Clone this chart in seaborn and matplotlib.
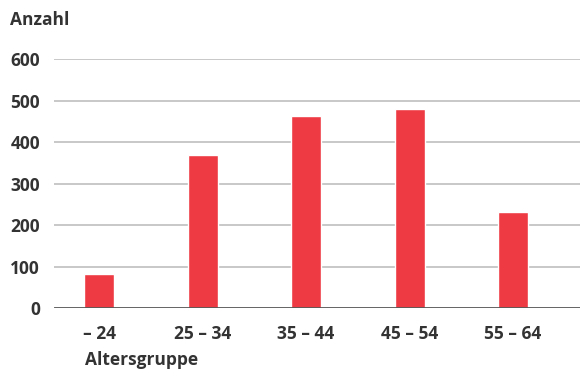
import matplotlib
matplotlib.use("Agg")
import matplotlib.pyplot as plt
import seaborn as sns
import pandas as pd

categories = ["– 24", "25 – 34", "35 – 44", "45 – 54", "55 – 64"]
values = [83, 369, 463, 480, 231]
yticks = [0, 100, 200, 300, 400, 500, 600]

sns.set_style("white")
plt.rcParams["font.family"] = ["Open Sans", "DejaVu Sans"]

df = pd.DataFrame({"Altersgruppe": categories, "Anzahl": values})

fig = plt.figure(figsize=(5.8, 3.72), dpi=100)
ax = fig.add_axes([54/580, 1 - 308/372, 1 - 54/580, 249/372])

sns.barplot(data=df, x="Altersgruppe", y="Anzahl", color="#EE3A43",
            saturation=1, width=0.29, ax=ax, zorder=3)

ax.set_ylim(0, 600)
ax.set_xlim(-0.435, 4.647)
ax.set_yticks(yticks)
ax.set_yticklabels([str(v) for v in yticks])
for y in yticks[1:]:
    ax.axhline(y, color="#c4c4c4", lw=1.3, zorder=1)
ax.axhline(0, color="#555555", lw=2, zorder=4)

for s in ax.spines.values():
    s.set_visible(False)
ax.tick_params(axis="both", length=0, labelsize=12.5, labelcolor="#333333")
ax.tick_params(axis="x", pad=12)
ax.tick_params(axis="y", pad=10)
for lab in ax.get_xticklabels() + ax.get_yticklabels():
    lab.set_fontweight("bold")
ax.set_xlabel("")
ax.set_ylabel("")

fig.text(10/580, 1 - 20/372, "Anzahl", fontsize=12.5, fontweight="bold",
         color="#333333", ha="left", va="center")
fig.text(85/580, 1 - 360/372, "Altersgruppe", fontsize=12.5, fontweight="bold",
         color="#333333", ha="left", va="center")

fig.savefig("out.png", dpi=100)
